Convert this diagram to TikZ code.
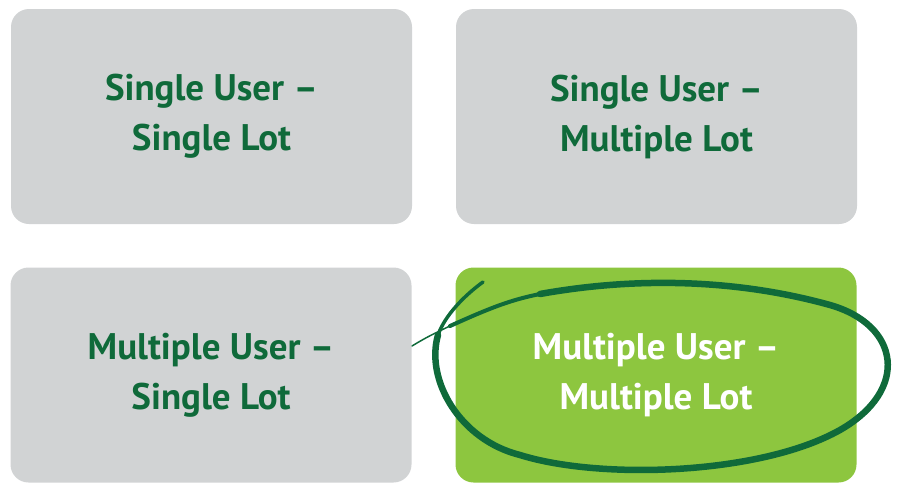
\documentclass[tikz,border=0pt]{standalone}
\usepackage{fontspec}
\setmainfont{PT Sans}
\usepackage{tikz}
\usetikzlibrary{positioning}
\definecolor{panelgray}{HTML}{D1D3D4}
\definecolor{leafgreen}{HTML}{8DC63F}
\definecolor{darkgreen}{HTML}{0F6A3A}

\begin{document}
\begin{tikzpicture}[x=1pt, y=-1pt,
    panel/.style={rectangle, rounded corners=18pt, fill=panelgray, minimum width=401pt,
      minimum height=215pt, inner sep=0pt, align=center, text=darkgreen,
      font=\fontsize{37}{50}\selectfont\bfseries},
    chosen/.style={panel, fill=leafgreen, text=white},
    brush/.style={draw=darkgreen, line width=6.5pt, line cap=round, line join=round}]
            \useasboundingbox (0,0) rectangle (901,482);

            \node[panel] (SS) at (211.5, 116.5) {Single User –\\Single Lot};
            \node[panel] (SM) at (656.5, 116.5) {Single User –\\Multiple Lot};
            \node[panel] (MS) at (211, 375) {Multiple User –\\Single Lot};
            \node[chosen] (MM) at (656, 375) {Multiple User –\\Multiple Lot};

            \draw[brush, line width=1.5pt] (412,346) .. controls (425,338) and (435,333) .. (450,326);
            \draw[brush, line width=4pt] (450,326) .. controls (490,308) and (510,300) .. (540,294);
            \draw[brush] (540,294) .. controls (640,276) and (740,280) .. (830,305)
                .. controls (900,325) and (910,390) .. (840,430)
                .. controls (760,475) and (600,480) .. (520,455)
                .. controls (460,440) and (425,380) .. (438,335);
            \draw[brush, line width=3.5pt] (438,335) .. controls (445,315) and (465,295) .. (483,282);
        \end{tikzpicture}
\end{document}
